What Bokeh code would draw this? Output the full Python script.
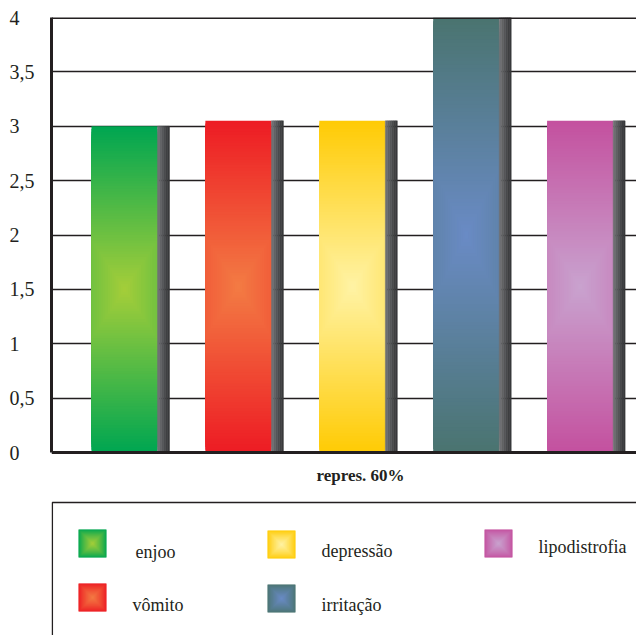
import numpy as np
from bokeh.plotting import figure
from bokeh.models import Range1d, FixedTicker, Span
from bokeh.embed import file_html
from bokeh.resources import INLINE
from bokeh.core.properties import value

# ---------------- data ----------------
categories = ["enjoo", "vômito", "depressão", "irritação", "lipodistrofia"]
values = [3.0, 3.05, 3.05, 4.0, 3.05]
edge_colors = ["#00a651", "#ed1c24", "#ffcb05", "#4a7470", "#c4519f"]
center_colors = ["#a6ce39", "#f37c44", "#fff3a6", "#6a8bc6", "#c9a3cf"]
y_ticks = [0, 0.5, 1, 1.5, 2, 2.5, 3, 3.5, 4]
y_tick_labels = ["0", "0,5", "1", "1,5", "2", "2,5", "3", "3,5", "4"]
x_label = "repres. 60%"

# ---------------- style / layout ----------------
INK = "#231f20"
FONT = "Liberation Serif"
W, H = 636, 635
FR_L, FR_T = 51, 17          # frame left / top in page pixels
Y0_PX = 452                  # pixel row of value 0
X_LO, X_HI = -0.641, 4.495   # category axis range (bars at 0..4)
Y_HI = 4.0
PX_PER_Y = (Y0_PX - FR_T) / Y_HI
Y_LO = Y_HI - (H - FR_T) / PX_PER_Y
BAR_W = 0.58
SHADOW_W = 0.105
N_STEPS = 60
shadow_cols = ["#707174", "#636467", "#57585b", "#4b4c4f", "#404143", "#38393b"]
FIG_SP = "\u2007"   # figure space (digit width)
PUNC_SP = "\u2008"  # punctuation space (comma width)


def px_x(px):
    return X_LO + (px - FR_L) * (X_HI - X_LO) / (W - FR_L)


def px_y(py):
    return Y_HI - (py - FR_T) / PX_PER_Y


def hex2rgb(h):
    h = h.lstrip("#")
    return np.array([int(h[i:i + 2], 16) for i in (0, 2, 4)], dtype=float)


def lerp(c1, c2, t):
    a, b = hex2rgb(c1), hex2rgb(c2)
    c = a + (b - a) * t
    return "#%02x%02x%02x" % tuple(int(round(v)) for v in c)


def pad_left_aligned(lab):
    # pad short labels so right-aligned axis labels look left-aligned
    return lab if "," in lab else lab + PUNC_SP + FIG_SP


p = figure(width=W, height=H, output_backend="svg", toolbar_location=None,
           x_range=Range1d(X_LO, X_HI), y_range=Range1d(Y_LO, Y_HI),
           x_axis_location=None,
           min_border_left=FR_L, min_border_right=0, min_border_top=FR_T,
           min_border_bottom=0)
p.outline_line_color = None
p.background_fill_color = "white"
p.border_fill_color = "white"

p.xgrid.visible = False
p.ygrid.ticker = FixedTicker(ticks=y_ticks[1:-1])
p.ygrid.grid_line_color = INK
p.ygrid.grid_line_width = 1.4

# bars with radial-like gradient (nested rectangles)
L, R, B, T, C = [], [], [], [], []
for i, (v, ec, cc) in enumerate(zip(values, edge_colors, center_colors)):
    for k in range(N_STEPS):
        t = k / N_STEPS
        wf = min(1.0, (1 - t) / 0.3)
        hh = v / 2 * (1 - t)
        L.append(i - BAR_W / 2 * wf)
        R.append(i + BAR_W / 2 * wf)
        B.append(v / 2 - hh)
        T.append(v / 2 + hh)
        C.append(lerp(ec, cc, t))
p.quad(left=L, right=R, bottom=B, top=T, fill_color=C, line_color=None)

# shadows on the right side of each bar
SL, SR, SB, ST, SC = [], [], [], [], []
ns = len(shadow_cols)
for i, v in enumerate(values):
    for j, col in enumerate(shadow_cols):
        SL.append(i + BAR_W / 2 + SHADOW_W * j / ns)
        SR.append(i + BAR_W / 2 + SHADOW_W * (j + 1) / ns)
        SB.append(0)
        ST.append(v)
        SC.append(col)
p.quad(left=SL, right=SR, bottom=SB, top=ST, fill_color=SC, line_color=SC, line_width=0.5)

# top frame line and baseline
p.add_layout(Span(location=Y_HI, dimension="width", line_color=INK, line_width=3))
p.add_layout(Span(location=0, dimension="width", line_color=INK, line_width=3))

# y axis
p.yaxis.bounds = (0, Y_HI)
p.yaxis.ticker = FixedTicker(ticks=y_ticks)
p.yaxis.major_label_overrides = {t: pad_left_aligned(s) for t, s in zip(y_ticks, y_tick_labels)}
p.yaxis.axis_line_color = INK
p.yaxis.axis_line_width = 3
p.yaxis.major_tick_line_color = None
p.yaxis.minor_tick_line_color = None
p.yaxis.major_label_text_font = FONT
p.yaxis.major_label_text_font_size = "20px"
p.yaxis.major_label_text_color = INK
p.yaxis.major_label_standoff = 11

# x axis title
p.text(x=[px_x(360)], y=[px_y(475)], text=[x_label], text_font=value(FONT),
       text_font_size="17px", text_font_style="bold", text_color=INK,
       text_align="center", text_baseline="middle")

# ---------------- legend ----------------
p.quad(left=[px_x(51.8)], right=[px_x(800)], top=[px_y(502)], bottom=[px_y(800)],
       fill_color=None, line_color=INK, line_width=1.5)

sw_x = [78, 78, 267, 267, 484]
sw_y = [529, 583, 530, 584, 529]
tx_x = [135, 132, 321, 321, 538]
tx_y = [551, 604, 550, 604, 546]
SW = 28
GL, GR, GB, GT, GC = [], [], [], [], []
for sx, sy, ec, cc in zip(sw_x, sw_y, edge_colors, center_colors):
    cx, cy = sx + SW / 2, sy + SW / 2
    for k in range(40):
        t = k / 40
        h = SW / 2 * (1 - t)
        GL.append(px_x(cx - h))
        GR.append(px_x(cx + h))
        GT.append(px_y(cy - h))
        GB.append(px_y(cy + h))
        GC.append(lerp(ec, cc, t ** 0.8))
p.quad(left=GL, right=GR, top=GT, bottom=GB, fill_color=GC, line_color=None)
p.text(x=[px_x(v) for v in tx_x], y=[px_y(v) for v in tx_y], text=categories,
       text_font=value(FONT), text_font_size="18px", text_color=INK,
       text_align="left", text_baseline="alphabetic")

open("out.html", "w").write(file_html(p, INLINE))
